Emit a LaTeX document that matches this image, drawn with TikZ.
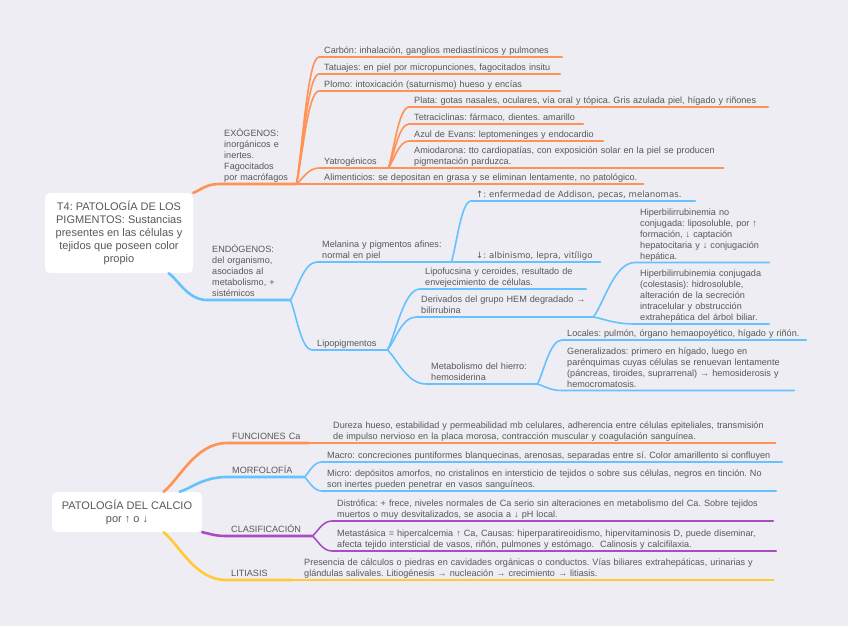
\documentclass[tikz,border=0pt]{standalone}
\usepackage{fontspec}
\setmainfont{Liberation Sans}
\newfontfamily\dejavu{DejaVu Sans}
\usetikzlibrary{calc}
\frenchspacing
\hyphenpenalty=10000
\exhyphenpenalty=10000
\definecolor{PageBg}{RGB}{238,237,243}
\definecolor{InkGray}{RGB}{88,88,88}
\definecolor{MapOrange}{RGB}{255,146,84}
\definecolor{MapBlue}{RGB}{102,194,255}
\definecolor{MapPurple}{RGB}{170,76,198}
\definecolor{MapYellow}{RGB}{255,201,56}
\tikzset{
  topic/.style={fill=white,rounded corners=5pt,text=InkGray,align=center,
    font=\fontsize{11}{13}\selectfont,inner sep=0pt},
  leaf/.style={anchor=south west,text=InkGray,align=left,inner xsep=5pt,
    inner ysep=0pt,font=\fontsize{9.1}{11}\selectfont,execute at end node=\strut},
  arrowfont/.style={font=\dejavu\fontsize{8.6}{11}\selectfont},
  mainline/.style={line width=2.6pt,line cap=round},
  subline/.style={line width=1.6pt,line cap=round},
  branch/.style={to path={.. controls ($(\tikztostart)!0.25!(\tikztotarget)$)
    and ($(\tikztotarget)!0.5!(\tikztostart |- \tikztotarget)$) .. (\tikztotarget)}}
}
\begin{document}
\begin{tikzpicture}[x=1pt,y=-1pt]
  \fill[PageBg] (0,0) rectangle (848,626);
  \useasboundingbox (0,0) rectangle (848,626);

  % pigmentos
  \node[topic,minimum width=148pt,minimum height=80pt] (root1) at (119,233)
    {T4: PATOLOGÍA DE LOS\\PIGMENTOS: Sustancias\\presentes en las células y\\tejidos que poseen color\\propio};

  \node[leaf,text width=67pt] (ex) at (219,184) {EXÓGENOS:\\inorgánicos e\\inertes.\\Fagocitados\\por macrófagos};
  \node[leaf,text width=233pt] (carbon) at (319,57) {Carbón: inhalación, ganglios mediastínicos y pulmones};
  \node[leaf,text width=231pt] (tatuajes) at (319,74) {Tatuajes: en piel por micropunciones, fagocitados insitu};
  \node[leaf,text width=231pt] (plomo) at (319,91) {Plomo: intoxicación (saturnismo) hueso y encías};
  \node[leaf,text width=59pt] (yatro) at (319,168) {Yatrogénicos};
  \node[leaf,text width=314pt] (alim) at (319,184) {Alimenticios: se depositan en grasa y se eliminan lentamente, no patológico.};
  \node[leaf,text width=349pt] (plata) at (409,107) {Plata: gotas nasales, oculares, vía oral y tópica. Gris azulada piel, hígado y riñones};
  \node[leaf,text width=164pt] (tetra) at (409,124) {Tetraciclinas: fármaco, dientes. amarillo};
  \node[leaf,text width=184pt] (azul) at (409,141) {Azul de Evans: leptomeninges y endocardio};
  \node[leaf,text width=304pt] (amio) at (409,168) {Amiodarona: tto cardiopatías, con exposición solar en la piel se producen\\pigmentación parduzca.};

  \node[leaf,text width=73pt] (endo) at (207,300) {ENDÓGENOS:\\del organismo,\\asociados al\\metabolismo, +\\sistémicos};
  \node[leaf,text width=124pt] (melanina) at (317,262) {Melanina y pigmentos afines:\\normal en piel};
  \node[leaf,arrowfont,text width=214pt] (sube) at (471,201) {↑: enfermedad de Addison, pecas, melanomas.};
  \node[leaf,arrowfont,text width=119pt] (baja) at (471,262) {↓: albinismo, lepra, vitíligo};
  \node[leaf,text width=65pt] (lipo) at (312,350) {Lipopigmentos};
  \node[leaf,text width=156pt] (lipof) at (420,289) {Lipofucsina y ceroides, resultado de\\envejecimiento de células.};
  \node[leaf,text width=167pt] (deriv) at (416,317) {Derivados del grupo HEM degradado →\\bilirrubina};
  \node[leaf,text width=101pt] (metab) at (426,384) {Metabolismo del hierro:\\hemosiderina};
  \node[leaf,text width=124pt] (hnc) at (635,262.5) {Hiperbilirrubinemia no\\conjugada: liposoluble, por ↑\\formación, ↓ captación\\hepatocitaria y ↓ conjugación\\hepática.};
  \node[leaf,text width=124pt] (hc) at (635,324) {Hiperbilirrubinemia conjugada\\(colestasis): hidrosoluble,\\alteración de la secreción\\intracelular y obstrucción\\extrahepática del árbol biliar.};
  \node[leaf,text width=234pt] (locales) at (562,340) {Locales: pulmón, órgano hemaopoyético, hígado y riñón.};
  \node[leaf,text width=222pt] (gen) at (562,390.5) {Generalizados: primero en hígado, luego en\\parénquimas cuyas células se renuevan lentamente\\(páncreas, tiroides, suprarrenal) → hemosiderosis y\\hemocromatosis.};

  \draw[MapOrange,mainline] (root1.north east) to[branch] (ex.south west) -- (ex.south east);
  \foreach \n in {carbon,tatuajes,plomo,yatro}
    \draw[MapOrange,subline] (ex.south east) to[branch] (\n.south west) -- (\n.south east);
  \draw[MapOrange,subline] (ex.south east) -- (alim.south west) -- (alim.south east);
  \foreach \n in {plata,tetra,azul}
    \draw[MapOrange,subline] (yatro.south east) to[branch] (\n.south west) -- (\n.south east);
  \draw[MapOrange,subline] (yatro.south east) -- (amio.south west) -- (amio.south east);

  \draw[MapBlue,mainline] (root1.-39) to[branch] (endo.south west) -- (endo.south east);
  \foreach \n in {melanina,lipo}
    \draw[MapBlue,subline] (endo.south east) to[branch] (\n.south west) -- (\n.south east);
  \draw[MapBlue,subline] (melanina.south east) to[branch] (sube.south west) -- (sube.south east);
  \draw[MapBlue,subline] (melanina.south east) -- (baja.south west) -- (baja.south east);
  \foreach \n in {lipof,deriv,metab}
    \draw[MapBlue,subline] (lipo.south east) to[branch] (\n.south west) -- (\n.south east);
  \foreach \n in {hnc,hc}
    \draw[MapBlue,subline] (deriv.south east) to[branch] (\n.south west) -- (\n.south east);
  \foreach \n in {locales,gen}
    \draw[MapBlue,subline] (metab.south east) to[branch] (\n.south west) -- (\n.south east);

  % calcio
  \node[topic,minimum width=150pt,minimum height=40pt] (root2) at (127,512)
    {PATOLOGÍA DEL CALCIO\\por ↑ o ↓};

  \node[leaf,text width=71pt] (func) at (227,443) {FUNCIONES Ca};
  \node[leaf,text width=437pt] (dureza) at (328,443) {Dureza hueso, estabilidad y permeabilidad mb celulares, adherencia entre células epiteliales, transmisión\\de impulso nervioso en la placa morosa, contracción muscular y coagulación sanguínea.};
  \node[leaf,text width=67pt] (morf) at (227,477) {MORFOLOFÍA};
  \node[leaf,text width=450pt] (macro) at (322,462) {Macro: concreciones puntiformes blanquecinas, arenosas, separadas entre sí. Color amarillento si confluyen};
  \node[leaf,text width=444pt] (micro) at (322,491) {Micro: depósitos amorfos, no cristalinos en intersticio de tejidos o sobre sus células, negros en tinción. No\\son inertes pueden penetrar en vasos sanguíneos.};
  \node[leaf,text width=76pt] (clas) at (226,536) {CLASIFICACIÓN};
  \node[leaf,text width=431pt] (disto) at (332,521) {Distrófica: + frece, niveles normales de Ca serio sin alteraciones en metabolismo del Ca. Sobre tejidos\\muertos o muy desvitalizados, se asocia a ↓ pH local.};
  \node[leaf,text width=434pt] (meta) at (332,551) {Metastásica = hipercalcemia ↑ Ca, Causas: hiperparatireoidismo, hipervitaminosis D, puede diseminar,\\afecta tejido intersticial de vasos, riñón, pulmones y estómago.\ \ Calinosis y calcifilaxia.};
  \node[leaf,text width=56pt] (lit) at (226,580) {LITIASIS};
  \node[leaf,text width=464pt] (pres) at (299,580) {Presencia de cálculos o piedras en cavidades orgánicas o conductos. Vías biliares extrahepáticas, urinarias y\\glándulas salivales. Litiogénesis → nucleación → crecimiento → litiasis.};

  \draw[MapOrange,mainline] (root2.29) to[branch] (func.south west) -- (func.south east);
  \draw[MapOrange,subline] (func.south east) -- (dureza.south west) -- (dureza.south east);
  \draw[MapBlue,mainline] (root2.21) to[branch] (morf.south west) -- (morf.south east);
  \foreach \n in {macro,micro}
    \draw[MapBlue,subline] (morf.south east) to[branch] (\n.south west) -- (\n.south east);
  \draw[MapPurple,mainline] (root2.south east) to[branch] (clas.south west) -- (clas.south east);
  \foreach \n in {disto,meta}
    \draw[MapPurple,subline] (clas.south east) to[branch] (\n.south west) -- (\n.south east);
  \draw[MapYellow,mainline] (root2.-29) to[branch] (lit.south west) -- (lit.south east);
  \draw[MapYellow,subline] (lit.south east) -- (pres.south west) -- (pres.south east);
\end{tikzpicture}
\end{document}
